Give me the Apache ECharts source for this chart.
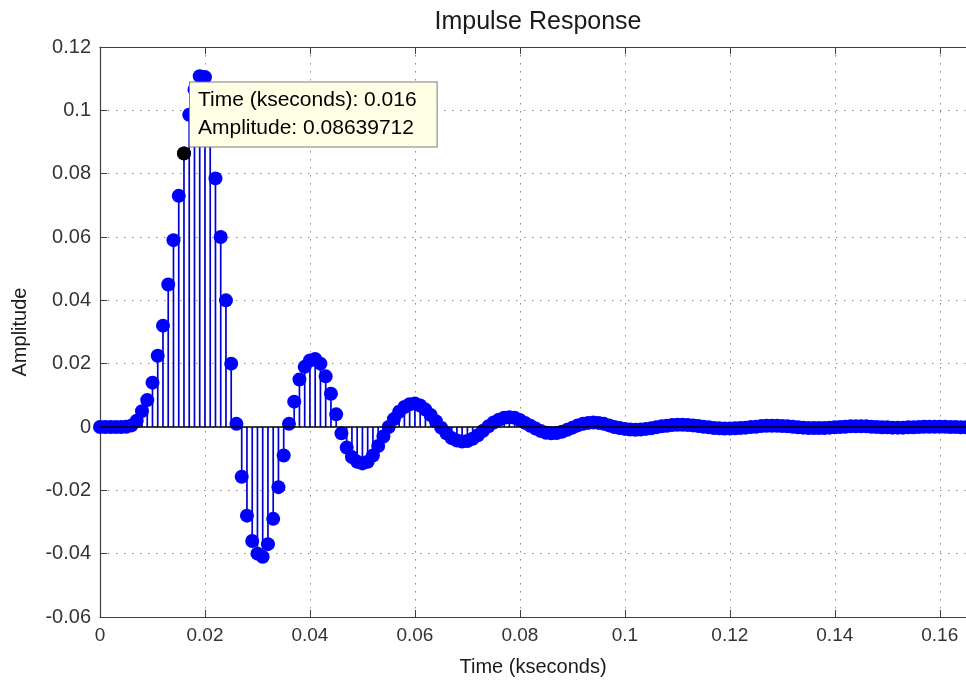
<!DOCTYPE html>
<html>
<head>
<meta charset="utf-8">
<script src="https://cdn.jsdelivr.net/npm/echarts@6/dist/echarts.min.js"></script>
<style>
  html, body { margin: 0; padding: 0; background: #ffffff; }
  #chart { width: 966px; height: 682px; }
</style>
</head>
<body>
<div id="chart"></div>
<script>
// Sampled impulse response: one amplitude per sample, sample step in kseconds
const sampleStep = 0.001;
const amplitude = [
  0, 0, 0, 0, 0, 0.0001, 0.0005, 0.002, 0.005, 0.0085,
  0.014, 0.0225, 0.032, 0.045, 0.059, 0.073, 0.08639712, 0.0986, 0.1065, 0.1108,
  0.1105, 0.0975, 0.0785, 0.060, 0.040, 0.020, 0.001, -0.0157, -0.028, -0.036,
  -0.0400, -0.0410, -0.0370, -0.029, -0.019, -0.009, 0.001, 0.008, 0.015, 0.019,
  0.021, 0.0215, 0.020, 0.016, 0.0105, 0.004, -0.002, -0.0065, -0.0095, -0.011,
  -0.0115, -0.011, -0.009, -0.006, -0.003, 0.0, 0.0025, 0.0048, 0.0063, 0.0072,
  0.0074, 0.0068, 0.0055, 0.0038, 0.0018, -0.0002, -0.002, -0.0035, -0.0043, -0.0046,
  -0.0044, -0.0037, -0.0026, -0.0012, 0.0002, 0.0014, 0.0023, 0.0029, 0.0031, 0.0029,
  0.0022, 0.0013, 0.0004, -0.0005, -0.0013, -0.0018, -0.002, -0.0019, -0.0015, -0.0009,
  -0.0002, 0.0005, 0.001, 0.0013, 0.0014, 0.0013, 0.001, 0.0005, 0.0, -0.0003,
  -0.0006, -0.0008, -0.0009, -0.0008, -0.0006, -0.0004, -0.0001, 0.0002, 0.0004, 0.0006,
  0.0007, 0.0007, 0.0006, 0.0005, 0.0003, 0.0001, -0.0001, -0.0003, -0.0004, -0.0005,
  -0.0005, -0.0004, -0.0003, -0.0002, 0.0, 0.0001, 0.0003, 0.0004, 0.0004, 0.0004,
  0.0003, 0.0002, 0.0001, -0.0001, -0.0002, -0.0003, -0.0003, -0.0003, -0.0003, -0.0002,
  -0.0001, 0.0, 0.0001, 0.0002, 0.0002, 0.0002, 0.0002, 0.0001, 0.0, -0.0001,
  -0.0001, -0.0002, -0.0002, -0.0002, -0.0001, -0.0001, 0.0, 0.0001, 0.0001, 0.0001,
  0.0001, 0.0001, 0.0, 0.0, -0.0001, -0.0001
];
const time = amplitude.map((_, i) => +(i * sampleStep).toFixed(3));

// Axis ticks
const xTicks = { min: 0, max: 0.165, step: 0.02 };
const yTicks = { min: -0.06, max: 0.12, step: 0.02 };

// Data cursor on one sample
const cursorIndex = 16;
const cursorTime = time[cursorIndex];
const cursorAmp = amplitude[cursorIndex];

const points = time.map((t, i) => [t, amplitude[i]]);
const FONT = "'Liberation Sans', Arial, sans-serif";
const axisColor = '#404040';
const gridDots = { color: '#8a8a8a', width: 1, type: [1.5, 6.5] };

const chart = echarts.init(document.getElementById('chart'), null, { renderer: 'canvas' });

chart.setOption({
  backgroundColor: '#ffffff',
  animation: false,
  title: {
    text: 'Impulse Response',
    left: 533,
    textAlign: 'center',
    top: 5,
    textStyle: { fontFamily: FONT, fontSize: 25, fontWeight: 'normal', color: '#1a1a1a' }
  },
  grid: { left: 100, top: 47, width: 870, height: 570, containLabel: false },
  xAxis: [
    {
      type: 'value',
      min: xTicks.min, max: xTicks.max, interval: xTicks.step,
      name: 'Time (kseconds)',
      nameLocation: 'middle',
      nameGap: 40,
      nameTextStyle: { fontFamily: FONT, fontSize: 20, color: '#1a1a1a' },
      axisLine: { show: true, onZero: false, lineStyle: { color: axisColor, width: 1.2 } },
      axisTick: { show: true, inside: true, length: 7, lineStyle: { color: axisColor } },
      axisLabel: {
        fontFamily: FONT, fontSize: 19, color: '#333', margin: 9,
        showMaxLabel: false,
        formatter: v => String(+v.toFixed(2))
      },
      splitLine: { show: true, lineStyle: gridDots }
    },
    {
      type: 'value', position: 'top',
      min: xTicks.min, max: xTicks.max, interval: xTicks.step,
      axisLine: { show: true, onZero: false, lineStyle: { color: axisColor, width: 1.2 } },
      axisTick: { show: true, inside: true, length: 7, lineStyle: { color: axisColor } },
      axisLabel: { show: false },
      splitLine: { show: false }
    }
  ],
  yAxis: {
    type: 'value',
    min: yTicks.min, max: yTicks.max, interval: yTicks.step,
    name: 'Amplitude',
    nameLocation: 'middle',
    nameGap: 70,
    nameRotate: 90,
    nameTextStyle: { fontFamily: FONT, fontSize: 20, color: '#1a1a1a' },
    axisLine: { show: true, onZero: false, lineStyle: { color: axisColor, width: 1.2 } },
    axisTick: { show: true, inside: true, length: 7, lineStyle: { color: axisColor } },
    axisLabel: {
      fontFamily: FONT, fontSize: 20, color: '#333', margin: 9,
      formatter: v => String(+v.toFixed(2))
    },
    splitLine: { show: true, lineStyle: gridDots }
  },
  series: [
    {
      // stems from the baseline to each sample
      type: 'custom',
      z: 2,
      data: points,
      renderItem: (params, api) => {
        const top = api.coord([api.value(0), api.value(1)]);
        const base = api.coord([api.value(0), 0]);
        return {
          type: 'line',
          shape: { x1: top[0], y1: top[1], x2: base[0], y2: base[1] },
          style: { stroke: '#0000d0', lineWidth: 1.7 }
        };
      }
    },
    {
      // filled sample markers
      type: 'scatter',
      z: 3,
      data: points,
      symbol: 'circle',
      symbolSize: 14,
      itemStyle: { color: '#0000ff', opacity: 1 },
      markLine: {
        silent: true,
        symbol: 'none',
        label: { show: false },
        lineStyle: { color: '#000000', width: 1.6, type: 'solid', opacity: 1 },
        data: [{ yAxis: 0 }],
        z: 4
      }
    },
    {
      // data cursor
      type: 'scatter',
      z: 10,
      data: [[cursorTime, cursorAmp]],
      symbol: 'circle',
      symbolSize: 14,
      itemStyle: { color: '#000000', opacity: 1 },
      label: {
        show: true,
        position: [13, -64],
        align: 'left',
        verticalAlign: 'top',
        fontFamily: FONT,
        fontSize: 21,
        lineHeight: 28,
        color: '#000000',
        opacity: 1,
        backgroundColor: '#ffffe6',
        borderColor: '#7a7a7a',
        borderWidth: 1,
        padding: [4, 20, 4, 8],
        formatter: () => 'Time (kseconds): ' + cursorTime + '\nAmplitude: ' + cursorAmp.toFixed(8)
      }
    }
  ]
});
</script>
</body>
</html>
